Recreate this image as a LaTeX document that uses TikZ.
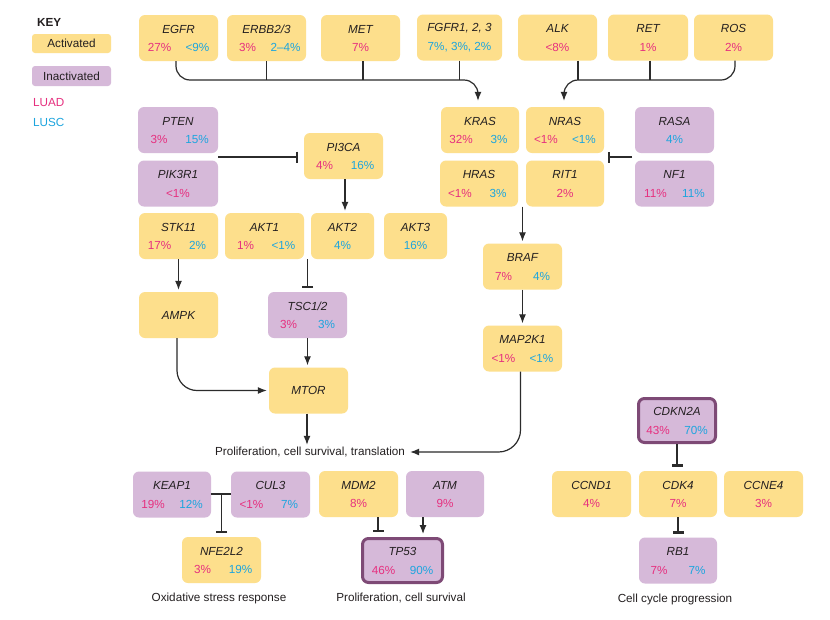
\documentclass[tikz,border=0pt]{standalone}
\usepackage{fontspec}
\setmainfont{Liberation Sans}
\usetikzlibrary{arrows.meta}
\definecolor{act}{HTML}{FDDF8C}
\definecolor{inact}{HTML}{D6B9D9}
\definecolor{luad}{HTML}{E6307F}
\definecolor{lusc}{HTML}{1DA5DE}
\definecolor{ink}{HTML}{231F20}
\definecolor{frame}{HTML}{7E4A76}
\definecolor{wire}{HTML}{2B2B2B}
\tikzset{
  gbox/.style={rectangle, rounded corners=6pt, draw=none, minimum height=46pt, inner sep=0pt},
  actbox/.style={gbox, fill=act},
  inbox/.style={gbox, fill=inact},
  keyinbox/.style={gbox, fill=inact, draw=frame, line width=3pt, minimum height=44pt},
  lbl/.style={font=\fontsize{11.7}{13}\selectfont\itshape, text=ink, inner sep=0pt},
  txt/.style={font=\fontsize{11.7}{13}\selectfont, text=ink, inner sep=0pt},
  pa/.style={font=\fontsize{11.7}{13}\selectfont, text=luad, inner sep=0pt},
  pc/.style={font=\fontsize{11.7}{13}\selectfont, text=lusc, inner sep=0pt},
  con/.style={draw=wire, line width=1.2pt},
  arr/.style={con, -{Latex[length=9pt,width=7pt]}, shorten >=2pt},
  inh/.style={con, -{Bar[width=11pt,line width=2.4pt]}, shorten >=3.5pt},
}
% name, style, cx, cy, width, gene, luad, lusc
\newcommand\gtwo[8]{%
  \node[#2, minimum width=#5pt] (#1) at (#3,#4) {};
  \node[lbl] at (#3,#4-9) {#6};
  \node[pa] at (#3-19,#4+9.5) {#7};
  \node[pc] at (#3+19,#4+9.5) {#8};}
% name, style, cx, cy, width, gene, text, textstyle
\newcommand\gone[8]{%
  \node[#2, minimum width=#5pt] (#1) at (#3,#4) {};
  \node[lbl] at (#3,#4-9) {#6};
  \node[#8] at (#3,#4+9.5) {#7};}
\begin{document}
\begin{tikzpicture}[x=1pt,y=-1pt]
\useasboundingbox (0,0) rectangle (830,619);
\fill[white] (0,0) rectangle (830,619);
% KEY
\node[txt, font=\fontsize{11.7}{13}\selectfont\bfseries, anchor=west] (key) at (37,22) {KEY};
\node[gbox, fill=act, minimum width=79pt, minimum height=19pt, rounded corners=3pt] (keyact) at (71.5,43.5) {};
\node[txt] at (keyact) {Activated};
\node[gbox, fill=inact, minimum width=79pt, minimum height=20pt, rounded corners=3pt] (keyinact) at (71.5,76) {};
\node[txt] at (keyinact) {Inactivated};
\node[pa, anchor=west] (kluad) at (33,103) {LUAD};
\node[pc, anchor=west] (klusc) at (33,122) {LUSC};
% top row
\gtwo{egfr}{actbox}{178.5}{38}{79}{EGFR}{27\%}{<9\%}
\gtwo{erbb}{actbox}{266.5}{38}{79}{ERBB2/3}{3\%}{2–4\%}
\gone{met}{actbox}{360.5}{38}{79}{MET}{7\%}{pa}
\gone{fgfr}{actbox}{459.5}{37.5}{85}{FGFR1, 2, 3}{7\%, 3\%, 2\%}{pc}
\gone{alk}{actbox}{557.5}{37.5}{79}{ALK}{<8\%}{pa}
\gone{ret}{actbox}{648}{37.5}{80}{RET}{1\%}{pa}
\gone{ros}{actbox}{733.5}{37.5}{79}{ROS}{2\%}{pa}
% RAS block
\gtwo{kras}{actbox}{480}{130}{78}{KRAS}{32\%}{3\%}
\gtwo{nras}{actbox}{565}{130}{78}{NRAS}{<1\%}{<1\%}
\gone{rasa}{inbox}{674.5}{130}{79}{RASA}{4\%}{pc}
\gtwo{hras}{actbox}{479}{183.5}{78}{HRAS}{<1\%}{3\%}
\gone{rit}{actbox}{565}{183.5}{78}{RIT1}{2\%}{pa}
\gtwo{nf}{inbox}{674.5}{183.5}{79}{NF1}{11\%}{11\%}
% PI3K block
\gtwo{pten}{inbox}{178}{130}{80}{PTEN}{3\%}{15\%}
\gone{pik}{inbox}{178}{183.5}{80}{PIK3R1}{<1\%}{pa}
\gtwo{pi3ca}{actbox}{343.5}{156}{79}{PI3CA}{4\%}{16\%}
\gtwo{stk}{actbox}{178.5}{236}{79}{STK11}{17\%}{2\%}
\gtwo{akta}{actbox}{264.5}{236}{79}{AKT1}{1\%}{<1\%}
\gone{aktb}{actbox}{342.5}{236}{63}{AKT2}{4\%}{pc}
\gone{aktc}{actbox}{415.5}{236}{63}{AKT3}{16\%}{pc}
\node[actbox, minimum width=79pt] (ampk) at (178.5,315) {};
\node[lbl] at (ampk) {AMPK};
\gtwo{tsc}{inbox}{307.5}{315}{79}{TSC1/2}{3\%}{3\%}
\node[actbox, minimum width=79pt] (mtor) at (308.5,390.5) {};
\node[lbl] at (mtor) {MTOR};
\node[txt] (prolif) at (310,452) {Proliferation, cell survival, translation};
% MAPK
\gtwo{braf}{actbox}{522.5}{266.5}{79}{BRAF}{7\%}{4\%}
\gtwo{map}{actbox}{522.5}{348.5}{79}{MAP2K1}{<1\%}{<1\%}
% bottom
\gtwo{keap}{inbox}{172}{494.5}{78}{KEAP1}{19\%}{12\%}
\gtwo{cul}{inbox}{270.5}{494.5}{79}{CUL3}{<1\%}{7\%}
\gtwo{nfe}{actbox}{221.5}{560}{79}{NFE2L2}{3\%}{19\%}
\node[txt] (oxid) at (219,598) {Oxidative stress response};
\gone{mdm}{actbox}{358.5}{494}{79}{MDM2}{8\%}{pa}
\gone{atm}{inbox}{445}{494}{78}{ATM}{9\%}{pa}
\gtwo{tp}{keyinbox}{402.5}{560.5}{80}{TP53}{46\%}{90\%}
\node[txt] (surv) at (401,598) {Proliferation, cell survival};
\gtwo{cdkn}{keyinbox}{677}{420.5}{77}{CDKN2A}{43\%}{70\%}
\gone{ccnd}{actbox}{591.5}{494}{79}{CCND1}{4\%}{pa}
\gone{cdk}{actbox}{678}{494}{78}{CDK4}{7\%}{pa}
\gone{ccne}{actbox}{763.5}{494}{79}{CCNE4}{3\%}{pa}
\gtwo{rb}{inbox}{678}{560.5}{78}{RB1}{7\%}{7\%}
\node[txt] (cellcyc) at (675,599) {Cell cycle progression};
% connectors: receptors
\coordinate (hl) at (0,80);
\draw[arr, shorten >=6pt, rounded corners=14pt] ([xshift=-2.5pt]egfr.south) |- ([xshift=-2pt]kras.north |- hl) -- ([xshift=-2pt]kras.north);
\draw[con] (erbb.south) -- (erbb.south |- hl);
\draw[con] ([xshift=2.5pt]met.south) -- ([xshift=2.5pt]met.south |- hl);
\draw[con] (fgfr.south) -- (fgfr.south |- hl);
\draw[arr, shorten >=6pt, rounded corners=14pt] ([xshift=1.5pt]ros.south) |- ([xshift=-1pt]nras.north |- hl) -- ([xshift=-1pt]nras.north);
\draw[con] ([xshift=20.5pt]alk.south) -- ([xshift=20.5pt]alk.south |- hl);
\draw[con] ([xshift=2pt]ret.south) -- ([xshift=2pt]ret.south |- hl);
% RAS
\coordinate (nfgap) at (632,157);
\draw[inh, shorten >=0pt] (nfgap) -- (608,157);
\draw[arr] (braf.north |- rit.south) -- (braf.north);
\draw[arr] (braf.south) -- (map.north);
\draw[arr, rounded corners=22pt] ([xshift=-2pt]map.south) |- ([xshift=3pt]prolif.east);
% PI3K
\draw[inh, shorten >=0pt] (pten.south east |- 0,157) -- (298,157);
\draw[arr] ([xshift=1.5pt]pi3ca.south) -- ([xshift=1.5pt]pi3ca.south |- aktb.north);
\draw[arr] (stk.south) -- (ampk.north);
\draw[inh] (tsc.north |- akta.south) -- (tsc.north);
\draw[arr] (tsc.south) -- (tsc.south |- mtor.north);
\draw[arr, rounded corners=20pt] ([xshift=-1.5pt]ampk.south) |- (mtor.west);
\draw[arr] ([xshift=-1.5pt]mtor.south) -- ([xshift=-1.5pt]mtor.south |- prolif.north);
% bottom
\draw[con] (keap.east |- 0,494) -- (cul.west |- 0,494);
\draw[inh] (nfe.north |- 0,494) -- (nfe.north);
\draw[inh, shorten >=5pt] ([xshift=19.5pt]mdm.south) -- ([xshift=19.5pt]mdm.south |- tp.north);
\draw[arr, shorten >=3pt] ([xshift=-22pt]atm.south) -- ([xshift=-22pt]atm.south |- tp.north);
\draw[inh, shorten >=4pt] (cdkn.south) -- (cdkn.south |- cdk.north);
\draw[inh] (cdk.south) -- (rb.north);
\end{tikzpicture}
\end{document}
